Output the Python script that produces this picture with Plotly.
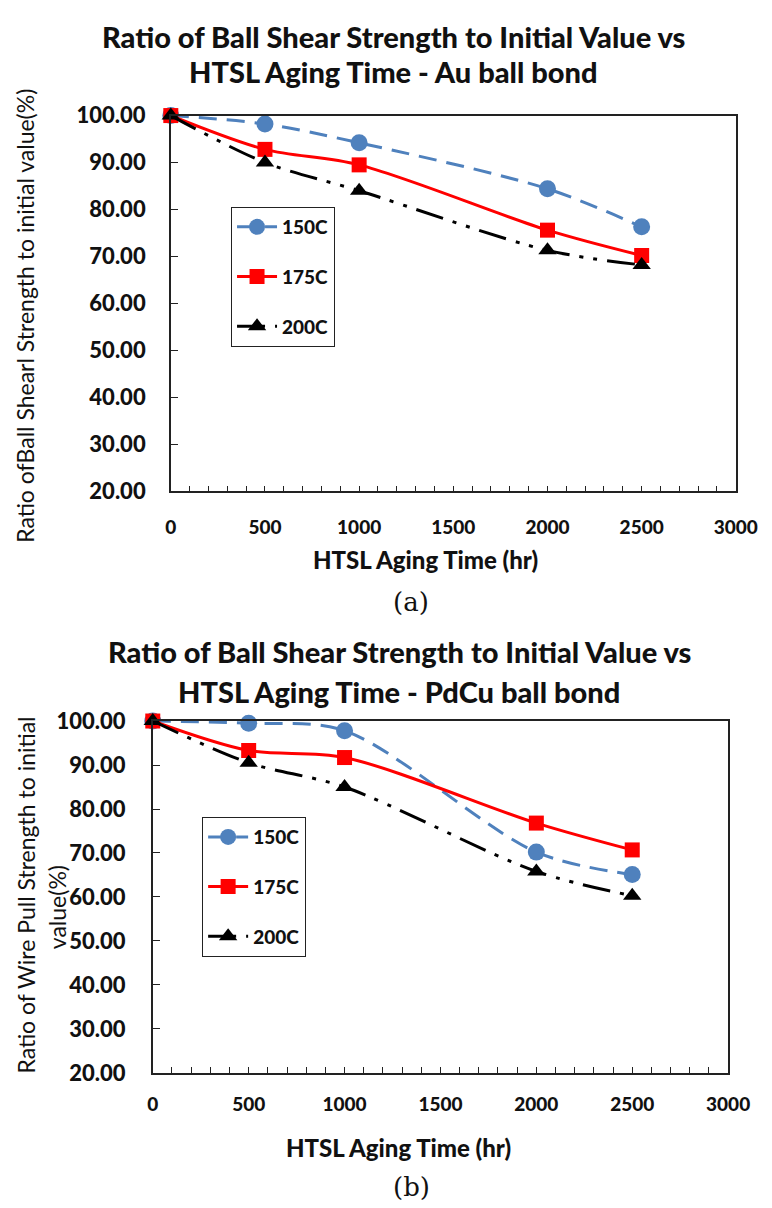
import plotly.graph_objects as go

W, H = 772, 1208

hours = [0, 500, 1000, 2000, 2500]
series_names = ['150C', '175C', '200C']

au_150 = [100, 98.2, 94.2, 84.4, 76.3]
au_175 = [100, 92.8, 89.5, 75.6, 70.2]
au_200 = [100, 90.0, 84.0, 71.3, 68.2]

pdcu_150 = [100, 99.5, 97.8, 70.2, 65.1]
pdcu_175 = [100, 93.3, 91.7, 76.8, 70.7]
pdcu_200 = [100, 90.5, 85.0, 65.8, 60.3]

title_a = ['Ratio of Ball Shear Strength to Initial Value vs',
           'HTSL Aging Time - Au ball bond']
title_b = ['Ratio of Ball Shear Strength to Initial Value vs',
           'HTSL Aging Time - PdCu ball bond']
ytitle_a = 'Ratio ofBall Shearl Strength to initial value(%)'
ytitle_b = ['Ratio of Wire Pull Strength to initial', 'value(%)']
xtitle = 'HTSL Aging Time (hr)'

BOLD = 'Lato Black, Lato'
FONT = 'Lato'

STYLES = [
    dict(color='#4F81BD', dash='18px,10px', symbol='circle', size=17),
    dict(color='#FF0000', dash='solid', symbol='square', size=15),
    dict(color='#000000', dash='28px,10px,4px,10px,4px,10px', symbol='triangle-up', size=16),
]


def px_x(x):
    return x / W


def px_y(y):
    return 1 - y / H


def _add_series(fig, data, xref, yref, legend):
    for name, ys, st in zip(series_names, data, STYLES):
        fig.add_trace(go.Scatter(
            x=hours, y=ys, name=name, mode='lines+markers',
            xaxis=xref, yaxis=yref, legend=legend, legendgroup=legend + name,
            cliponaxis=False,
            line=dict(color=st['color'], width=3, dash=st['dash'],
                      shape='spline', smoothing=0.9),
            marker=dict(symbol=st['symbol'], size=st['size'], color=st['color'])))


def _axes(xdom, ydom, anchor_x, anchor_y, xstand, ystand):
    line = dict(showline=True, linecolor='#222', linewidth=1.5, mirror=True,
                showgrid=False, zeroline=False)
    xa = dict(domain=xdom, anchor=anchor_y, range=[0, 3000], dtick=500, tick0=0,
              ticks='inside', ticklen=6, tickcolor='#222',
              minor=dict(dtick=100, ticks='inside', ticklen=6, tickcolor='#222'),
              tickfont=dict(family=BOLD, size=19, color='#111'),
              ticklabelstandoff=xstand, **line)
    ya = dict(domain=ydom, anchor=anchor_x, range=[20, 100], dtick=10,
              tickformat='.2f', ticks='inside', ticklen=7, tickcolor='#222',
              tickfont=dict(family=BOLD, size=22, color='#111'),
              ticklabelstandoff=ystand, **line)
    return xa, ya


def _text(fig, text, x, y, size, family=BOLD, angle=0):
    fig.add_annotation(text=text, x=px_x(x), y=px_y(y), xref='paper', yref='paper',
                       xanchor='center', yanchor='middle', showarrow=False,
                       textangle=angle, font=dict(family=family, size=size, color='#111'))


fig = go.Figure()
_add_series(fig, [au_150, au_175, au_200], 'x', 'y', 'legend')
_add_series(fig, [pdcu_150, pdcu_175, pdcu_200], 'x2', 'y2', 'legend2')

xa1, ya1 = _axes([px_x(162.7), px_x(749)], [px_y(480), px_y(95.7)], 'x', 'y', 18, 19)
xa2, ya2 = _axes([px_x(144), px_x(741)], [px_y(1075), px_y(715)], 'x2', 'y2', 13, 21)

legend_style = dict(bordercolor='#222', borderwidth=1.2, bgcolor='white',
                    font=dict(family=BOLD, size=19, color='#111'),
                    tracegroupgap=22, xanchor='left', yanchor='top',
                    itemwidth=40)

fig.update_layout(
    width=W, height=H,
    margin=dict(l=0, r=0, t=0, b=0),
    paper_bgcolor='white', plot_bgcolor='white',
    xaxis=xa1, yaxis=ya1, xaxis2=xa2, yaxis2=ya2,
    legend=dict(x=px_x(225), y=px_y(189), **legend_style),
    legend2=dict(x=px_x(195), y=px_y(813), **legend_style),
)

# titles
_text(fig, title_a[0], 394, 15, 29)
_text(fig, title_a[1], 393, 51, 29)
_text(fig, title_b[0], 400, 644, 29)
_text(fig, title_b[1], 400, 685, 29)

# axis titles
_text(fig, ytitle_a, 12, 301, 23, family=FONT, angle=-90)
_text(fig, ytitle_b[0], 13, 893, 23, family=FONT, angle=-90)
_text(fig, ytitle_b[1], 44, 905, 23, family=FONT, angle=-90)
_text(fig, xtitle, 427, 550, 24)
_text(fig, xtitle, 399, 1151, 24)

# panel labels
_text(fig, '(a)', 412, 593, 26, family='DejaVu Serif')
_text(fig, '(b)', 412, 1192, 26, family='DejaVu Serif')

fig.write_html("out.html")
